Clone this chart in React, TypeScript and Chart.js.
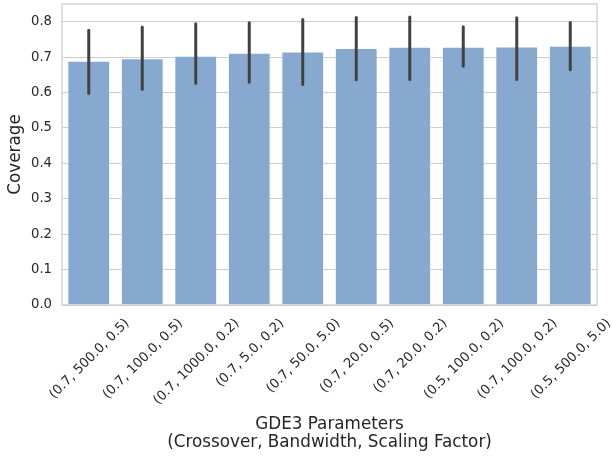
import React, { useEffect, useRef } from "react";
import { Chart, registerables } from "chart.js";

Chart.register(...registerables);

const categories = [
  "(0.7, 500.0, 0.5)",
  "(0.7, 100.0, 0.5)",
  "(0.7, 1000.0, 0.2)",
  "(0.7, 5.0, 0.2)",
  "(0.7, 50.0, 5.0)",
  "(0.7, 20.0, 0.5)",
  "(0.7, 20.0, 0.2)",
  "(0.5, 100.0, 0.2)",
  "(0.7, 100.0, 0.2)",
  "(0.5, 500.0, 5.0)",
];
const coverage = [0.69, 0.697, 0.704, 0.712, 0.716, 0.726, 0.729, 0.729, 0.73, 0.732];
const errLow = [0.597, 0.609, 0.626, 0.629, 0.623, 0.636, 0.637, 0.674, 0.637, 0.664];
const errHigh = [0.776, 0.785, 0.794, 0.797, 0.806, 0.812, 0.813, 0.786, 0.811, 0.798];
const yTicks = [0, 0.1, 0.2, 0.3, 0.4, 0.5, 0.6, 0.7, 0.8];

const FONT = "'DejaVu Sans', sans-serif";
const TEXT = "#262626";
const GRID = "#cccccc";

const overlay = {
  id: "overlay",
  afterDatasetsDraw(chart: any) {
    const { ctx, chartArea, scales } = chart;
    const meta = chart.getDatasetMeta(0);
    const y = scales.y;
    ctx.save();
    // spines
    ctx.strokeStyle = GRID;
    ctx.lineWidth = 1.25;
    ctx.strokeRect(chartArea.left, chartArea.top, chartArea.right - chartArea.left, chartArea.bottom - chartArea.top);
    // error bars
    ctx.strokeStyle = "#424242";
    ctx.lineWidth = 3;
    ctx.lineCap = "round";
    meta.data.forEach((bar: any, i: number) => {
      ctx.beginPath();
      ctx.moveTo(bar.x, y.getPixelForValue(errLow[i]));
      ctx.lineTo(bar.x, y.getPixelForValue(errHigh[i]));
      ctx.stroke();
    });
    // rotated x tick labels (centred on tick, like matplotlib ha=center)
    const size = 13.2;
    ctx.font = `${size}px ${FONT}`;
    ctx.fillStyle = TEXT;
    ctx.textAlign = "center";
    ctx.textBaseline = "alphabetic";
    const h = size * 1.164;
    const top = chartArea.bottom + 10;
    const c = Math.SQRT1_2;
    meta.data.forEach((bar: any, i: number) => {
      const label = categories[i];
      const w = ctx.measureText(label).width;
      const cx = bar.x;
      const cy = top + ((w + h) * c) / 2;
      ctx.save();
      ctx.translate(cx, cy);
      ctx.rotate(-Math.PI / 4);
      ctx.fillText(label, 0, size * 0.346);
      ctx.restore();
    });
    ctx.restore();
  },
};

export default function App() {
  const ref = useRef<HTMLCanvasElement>(null);
  useEffect(() => {
    if (!ref.current) return;
    const chart = new Chart(ref.current, {
      type: "bar",
      data: {
        labels: categories,
        datasets: [
          {
            data: coverage,
            backgroundColor: "#87a8cf",
            borderColor: "rgba(255,255,255,0.6)",
            borderWidth: 1,
            barPercentage: 0.8,
            categoryPercentage: 1,
          },
        ],
      },
      options: {
        responsive: false,
        animation: false,
        layout: { autoPadding: false, padding: { top: 4, right: 15, left: 0, bottom: 0 } },
        plugins: { legend: { display: false }, tooltip: { enabled: false } },
        scales: {
          x: {
            grid: { display: false, drawTicks: false },
            border: { display: false },
            ticks: { display: false },
            title: {
              display: true,
              text: ["GDE3 Parameters", "(Crossover, Bandwidth, Scaling Factor)"],
              color: TEXT,
              font: { family: FONT, size: 16.8, lineHeight: 1.1 },
              padding: { top: 0, bottom: 4 },
            },
            afterFit: (s: any) => {
              s.height = 151;
              s.paddingLeft = 0;
              s.paddingRight = 0;
              s.paddingTop = 0;
              s.paddingBottom = 0;
            },
          },
          y: {
            min: 0,
            max: 0.85,
            grid: { color: GRID, lineWidth: 1, drawTicks: false },
            border: { display: false },
            afterBuildTicks: (s: any) => {
              s.ticks = yTicks.map((v) => ({ value: v }));
            },
            ticks: {
              padding: 10,
              color: TEXT,
              font: { family: FONT, size: 13.2 },
              callback: (v: any) => Number(v).toFixed(1),
            },
            title: {
              display: true,
              text: "Coverage",
              color: TEXT,
              font: { family: FONT, size: 16.8, lineHeight: 1.1 },
              padding: { top: 6, bottom: 0 },
            },
            afterFit: (s: any) => {
              s.width = 62;
              s.paddingLeft = 0;
              s.paddingRight = 0;
              s.paddingTop = 0;
              s.paddingBottom = 0;
            },
          },
        },
      },
      plugins: [overlay],
    });
    return () => chart.destroy();
  }, []);
  return (
    <div style={{ position: "absolute", left: 0, top: 0, width: 612, height: 456, background: "#fff" }}>
      <canvas ref={ref} width={612} height={456} style={{ display: "block" }} />
    </div>
  );
}
